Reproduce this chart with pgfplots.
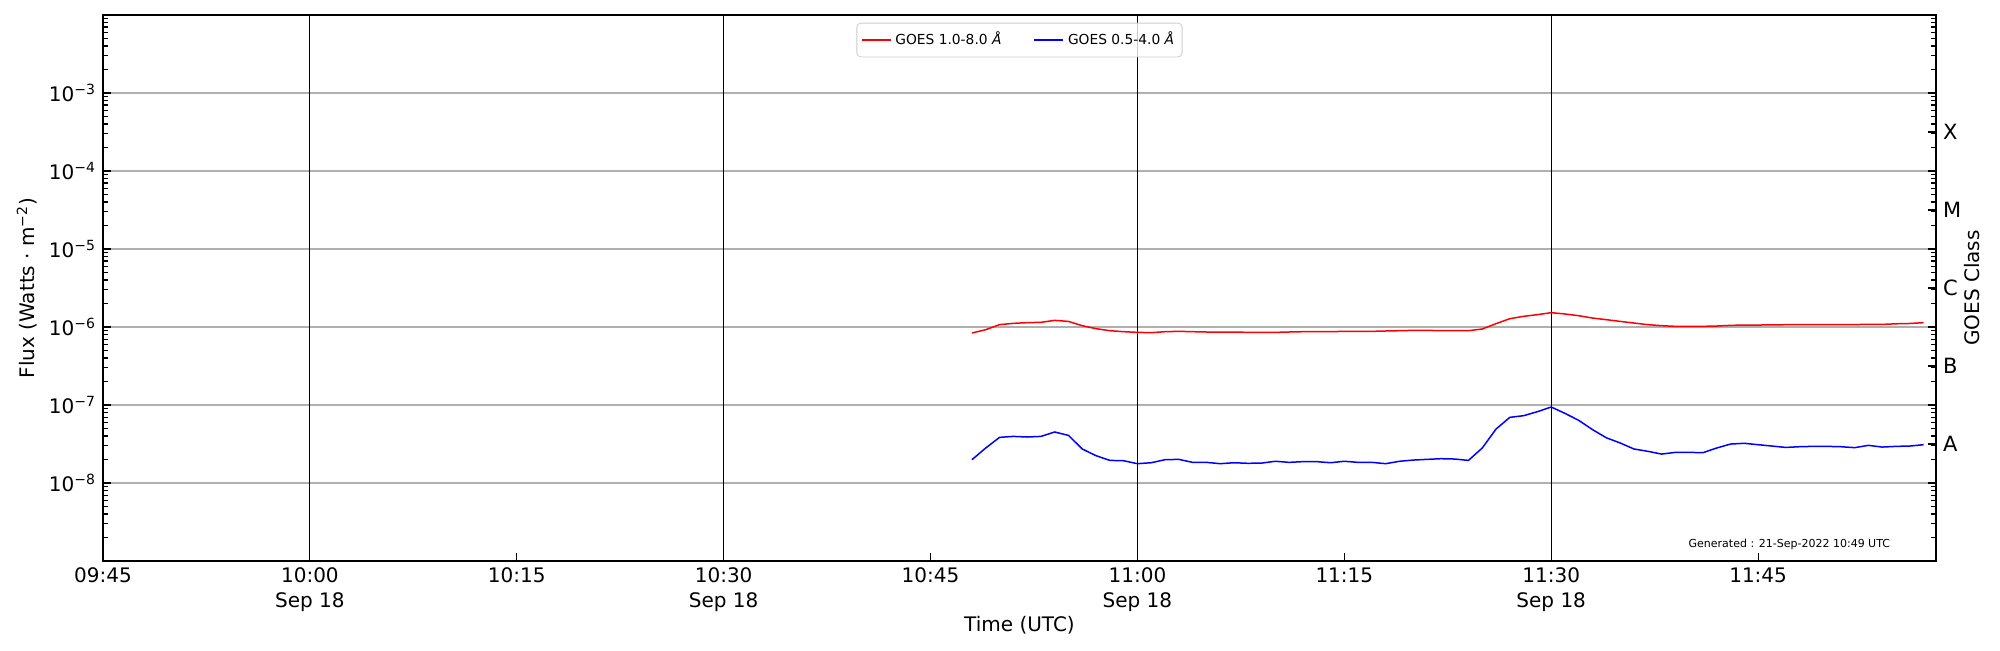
\documentclass[border=0pt]{standalone}
\usepackage{fontspec}
\setmainfont{DejaVu Sans}
\usepackage{pgfplots}
\usepackage{pgfplotstable}
\pgfplotsset{compat=1.18}
\definecolor{gridgray}{HTML}{B0B0B0}
\pgfplotstableread{
t long short
63 8.38e-7 1.99e-8
64 9.24e-7 2.81e-8
65 1.072e-6 3.85e-8
66 1.114e-6 3.96e-8
67 1.137e-6 3.89e-8
68 1.148e-6 3.96e-8
69 1.217e-6 4.51e-8
70 1.18e-6 4.08e-8
71 1.04e-6 2.73e-8
72 9.52e-7 2.24e-8
73 8.97e-7 1.95e-8
74 8.71e-7 1.93e-8
75 8.54e-7 1.77e-8
76 8.46e-7 1.82e-8
77 8.71e-7 1.99e-8
78 8.80e-7 2.01e-8
79 8.71e-7 1.84e-8
80 8.63e-7 1.84e-8
81 8.63e-7 1.77e-8
82 8.63e-7 1.82e-8
83 8.54e-7 1.79e-8
84 8.54e-7 1.80e-8
85 8.54e-7 1.90e-8
86 8.63e-7 1.84e-8
87 8.71e-7 1.88e-8
88 8.71e-7 1.88e-8
89 8.71e-7 1.82e-8
90 8.80e-7 1.90e-8
91 8.80e-7 1.84e-8
92 8.80e-7 1.84e-8
93 8.89e-7 1.77e-8
94 8.97e-7 1.90e-8
95 9.06e-7 1.97e-8
96 9.06e-7 2.01e-8
97 8.97e-7 2.05e-8
98 8.97e-7 2.03e-8
99 8.97e-7 1.95e-8
100 9.43e-7 2.81e-8
101 1.104e-6 4.92e-8
102 1.279e-6 6.95e-8
103 1.371e-6 7.30e-8
104 1.44e-6 8.22e-8
105 1.528e-6 9.42e-8
106 1.469e-6 7.81e-8
107 1.396e-6 6.35e-8
108 1.303e-6 4.83e-8
109 1.241e-6 3.80e-8
110 1.18e-6 3.26e-8
111 1.125e-6 2.73e-8
112 1.072e-6 2.55e-8
113 1.04e-6 2.35e-8
114 1.02e-6 2.47e-8
115 1.02e-6 2.47e-8
116 1.02e-6 2.45e-8
117 1.03e-6 2.81e-8
118 1.05e-6 3.16e-8
119 1.06e-6 3.23e-8
120 1.06e-6 3.10e-8
121 1.065e-6 2.98e-8
122 1.07e-6 2.86e-8
123 1.07e-6 2.92e-8
124 1.075e-6 2.95e-8
125 1.075e-6 2.95e-8
126 1.075e-6 2.92e-8
127 1.075e-6 2.84e-8
128 1.08e-6 3.04e-8
129 1.08e-6 2.89e-8
130 1.10e-6 2.95e-8
131 1.11e-6 2.98e-8
132 1.137e-6 3.10e-8
}\goesdata
\pgfplotsset{minorlog/.style={minor ytick={2e-9,3e-9,4e-9,5e-9,6e-9,7e-9,8e-9,9e-9,2e-8,3e-8,4e-8,5e-8,6e-8,7e-8,8e-8,9e-8,2e-7,3e-7,4e-7,5e-7,6e-7,7e-7,8e-7,9e-7,2e-6,3e-6,4e-6,5e-6,6e-6,7e-6,8e-6,9e-6,2e-5,3e-5,4e-5,5e-5,6e-5,7e-5,8e-5,9e-5,2e-4,3e-4,4e-4,5e-4,6e-4,7e-4,8e-4,9e-4,2e-3,3e-3,4e-3,5e-3,6e-3,7e-3,8e-3,9e-3}}}
\begin{document}
\begin{tikzpicture}
\useasboundingbox (-51.5pt,-44.5pt) rectangle (948.5pt,280.5pt);
\begin{axis}[
  at={(0,0)}, anchor=south west, scale only axis,
  width=916.5pt, height=273pt,
  xmin=0, xmax=132.9, ymode=log, ymin=1e-9, ymax=1e-2,
  axis line style={black, line width=0.8pt},
  tick style={black, line width=0.6pt},
  major tick length=4.2pt, minor tick length=2.4pt,
  tick align=inside,
  tick label style={font=\fontsize{10}{12.5}\selectfont},
  label style={font=\fontsize{10}{12}\selectfont},
  xtick={0,15,...,120},
  xticklabels={09:45,{10:00\\Sep 18},10:15,{10:30\\Sep 18},10:45,{11:00\\Sep 18},11:15,{11:30\\Sep 18},11:45},
  xticklabel style={align=center},
  xtick pos=bottom, ytick pos=left,
  extra x ticks={15,45,75,105},
  extra x tick labels={},
  extra x tick style={grid=major, major grid style={black, line width=0.6pt}},
  ytick={1e-8,1e-7,1e-6,1e-5,1e-4,1e-3},
  yticklabels={10\textsuperscript{−8},10\textsuperscript{−7},10\textsuperscript{−6},10\textsuperscript{−5},10\textsuperscript{−4},10\textsuperscript{−3}},
  minorlog,
  ymajorgrids, y grid style={gridgray, line width=0.55pt},
  xlabel={Time (UTC)},
  ylabel={Flux (Watts · m\textsuperscript{−2})},
  every axis x label/.style={at={(axis description cs:0.5,0)}, yshift=-32pt, anchor=center},
  every axis y label/.style={at={(axis description cs:0,0.5)}, xshift=-38pt, rotate=90, anchor=center},
  legend columns=2,
  legend cell align=left,
  legend image code/.code={\draw[#1] (0pt,0pt) -- (14.5pt,0pt);},
  legend style={at={(0.5,1)}, anchor=north, yshift=-3.85pt,
    draw=black!20, rounded corners=2pt, fill=white, fill opacity=0.8, text opacity=1, draw opacity=1,
    font=\fontsize{6.9}{8}\selectfont, inner xsep=2pt, inner ysep=2.5pt,
    /tikz/every even column/.append style={column sep=14pt}},
]
\addplot[red, line width=0.75pt] table[x=t, y=long] {\goesdata};
\addlegendentry{GOES 1.0-8.0 \textit{Å}}
\addplot[blue, line width=0.75pt] table[x=t, y=short] {\goesdata};
\addlegendentry{GOES 0.5-4.0 \textit{Å}}
\node[font=\fontsize{5.5}{6.5}\selectfont, anchor=center] at (axis description cs:0.920,0.031) {Generated : 21-Sep-2022 10:49 UTC};
\end{axis}
\begin{axis}[
  at={(0,0)}, anchor=south west, scale only axis,
  width=916.5pt, height=273pt,
  xmin=0, xmax=132.9, ymode=log, ymin=1e-9, ymax=1e-2,
  axis line style={black, line width=0.8pt},
  tick style={black, line width=0.6pt},
  major tick length=4.2pt, minor tick length=2.4pt,
  tick align=inside,
  tick label style={font=\fontsize{10}{12.5}\selectfont},
  label style={font=\fontsize{10}{12}\selectfont},
  axis x line=none, axis y line*=right,
  ytick={1e-9,1e-8,1e-7,1e-6,1e-5,1e-4,1e-3,1e-2,3.16228e-8,3.16228e-7,3.16228e-6,3.16228e-5,3.16228e-4},
  yticklabels={,,,,,,,,A,B,C,M,X},
  minorlog,
  yticklabel style={anchor=west, font=\fontsize{10.5}{12.5}\selectfont},
  ylabel={GOES Class},
  every axis y label/.style={at={(axis description cs:1,0.5)}, xshift=18pt, rotate=90, anchor=center},
]
\addplot[draw=none] coordinates {(10,1e-5)};
\end{axis}
\end{tikzpicture}
\end{document}
